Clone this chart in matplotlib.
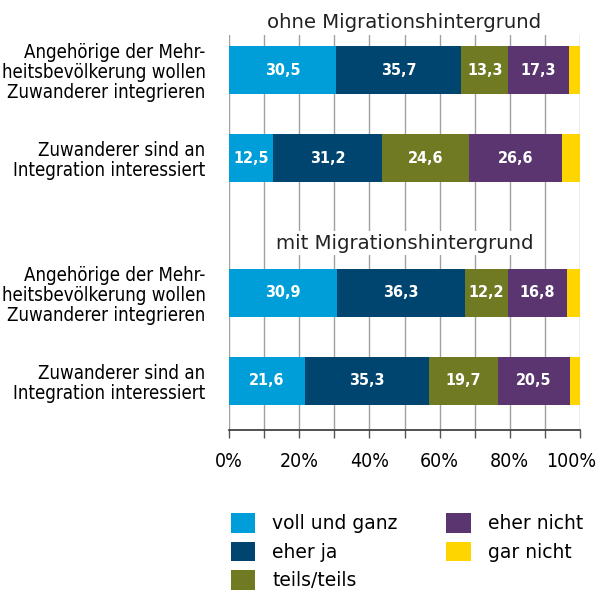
import matplotlib
matplotlib.use("Agg")
import matplotlib.pyplot as plt
import matplotlib.transforms as mtransforms
import numpy as np
from matplotlib.patches import Patch

plt.rcParams['font.family'] = ['DejaVu Sans']

categories = [
    "Angehörige der Mehr-\nheitsbevölkerung wollen\nZuwanderer integrieren",
    "Zuwanderer sind an\nIntegration interessiert",
    "Angehörige der Mehr-\nheitsbevölkerung wollen\nZuwanderer integrieren",
    "Zuwanderer sind an\nIntegration interessiert",
]
group_titles = ["ohne Migrationshintergrund", "mit Migrationshintergrund"]
series_names = ["voll und ganz", "eher ja", "teils/teils", "eher nicht", "gar nicht"]
voll_und_ganz = [30.5, 12.5, 30.9, 21.6]
eher_ja = [35.7, 31.2, 36.3, 35.3]
teils_teils = [13.3, 24.6, 12.2, 19.7]
eher_nicht = [17.3, 26.6, 16.8, 20.5]
gar_nicht = [3.2, 5.1, 3.8, 2.9]
tick_labels = ["0%", "20%", "40%", "60%", "80%", "100%"]

colors = ["#009ed8", "#00456f", "#6f7a22", "#5a3570", "#ffd500"]
series = [voll_und_ganz, eher_ja, teils_teils, eher_nicht, gar_nicht]

fig = plt.figure(figsize=(6.01, 5.94), dpi=100)
W, H = 601, 594
ax = fig.add_axes([229 / W, 1 - 430 / H, (580 - 229) / W, (430 - 35) / H])

ypos = np.array([0, 1, 2.53, 3.53])
bh = 0.55
left = np.zeros(4)
for si, (vals, col) in enumerate(zip(series, colors)):
    vals = np.array(vals)
    ax.barh(ypos, vals, left=left, height=bh, color=col, zorder=3, linewidth=0)
    if si < 4:
        for y, l, v in zip(ypos, left, vals):
            ax.text(l + v / 2, y, f"{v:.1f}".replace(".", ","), ha="center", va="center",
                    color="white", fontsize=11.5, fontweight="bold", fontstretch="condensed",
                    zorder=4)
    left += vals

ax.set_xlim(0, 100)
ax.set_ylim(4.09, -0.40)
ax.set_xticks(np.arange(0, 101, 20))
ax.set_xticklabels(tick_labels, fontsize=14, fontstretch="condensed")
ax.set_xticks(np.arange(0, 101, 10), minor=True)
ax.tick_params(axis="x", which="both", direction="out", length=6, width=1, color="#555555", pad=10)
ax.xaxis.grid(True, which="both", color="#a0a0a0", linewidth=1, zorder=1)
last = ax.get_xticklabels()[-1]
last.set_transform(last.get_transform() + mtransforms.ScaledTranslation(-9 / 100, 0, fig.dpi_scale_trans))
ax.set_yticks(ypos)
ax.set_yticklabels(categories, fontsize=13.4, fontstretch="condensed", linespacing=1.08)
ax.tick_params(axis="y", length=0, pad=17)
for s in ["top", "right", "left"]:
    ax.spines[s].set_visible(False)
ax.spines["bottom"].set_color("#333333")
ax.spines["bottom"].set_linewidth(1.2)

ax.text(50, -0.545, group_titles[0], ha="center", va="center", fontsize=14.2,
        color="#222222", clip_on=False, zorder=5,
        bbox=dict(facecolor="white", edgecolor="none", pad=2))
ax.text(50, 1.966, group_titles[1], ha="center", va="center", fontsize=14.2,
        color="#222222", zorder=5,
        bbox=dict(facecolor="white", edgecolor="none", pad=2))

handles = [Patch(facecolor=c, edgecolor="none") for c in colors]
leg = fig.legend(handles, series_names, loc="upper left", bbox_to_anchor=(214 / W, 1 - 496 / H),
                 ncol=2, frameon=False, fontsize=13.5, handlelength=1.3, handleheight=1.25,
                 handletextpad=0.9, columnspacing=2.6, labelspacing=0.45)

fig.savefig("out.png", dpi=100)
